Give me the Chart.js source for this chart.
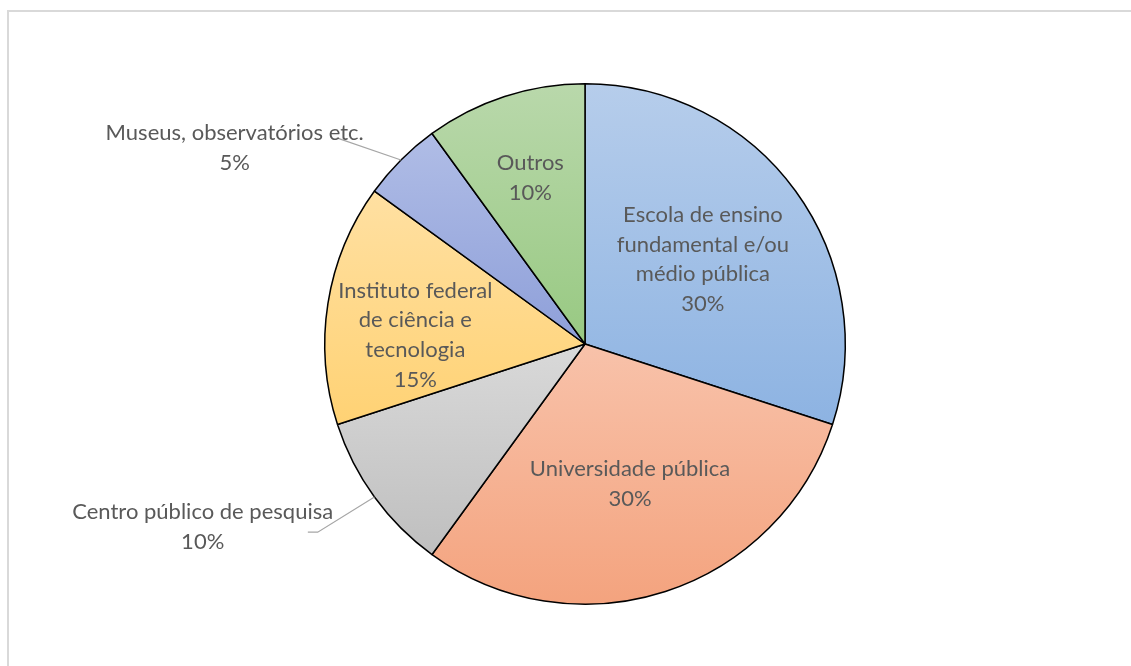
<!DOCTYPE html>
<html>
<head>
<meta charset="utf-8">
<script src="https://cdn.jsdelivr.net/npm/chart.js@4/dist/chart.umd.min.js"></script>
<style>
  body { margin: 0; background: #fff; overflow: hidden; }
  #frame { position: absolute; left: 7px; top: 10px; width: 1200px; height: 700px;
           border-left: 2px solid #d9d9d9; border-top: 2px solid #d9d9d9; }
  #myChart { position: absolute; left: 0; top: 0; }
</style>
</head>
<body>
<div id="frame"></div>
<canvas id="myChart" width="1131" height="666"></canvas>
<script>
// dados do grafico
var categorias = ['Escola de ensino fundamental e/ou médio pública', 'Universidade pública',
  'Centro público de pesquisa', 'Instituto federal de ciência e tecnologia',
  'Museus, observatórios etc.', 'Outros'];
var valores = [30, 30, 10, 15, 5, 10];
var linhas = [
  ['Escola de ensino', 'fundamental e/ou', 'médio pública'],
  ['Universidade pública'],
  ['Centro público de pesquisa'],
  ['Instituto federal', 'de ciência e', 'tecnologia'],
  ['Museus, observatórios etc.'],
  ['Outros']
];
var corClara = ['#b6cdeb', '#f8c2aa', '#d9d9d9', '#ffe0a2', '#b0bde6', '#b9d8ab'];
var corEscura = ['#8db3e2', '#f4a37e', '#bfbfbf', '#ffd274', '#8e9fd9', '#98c982'];

// posicao dos rotulos (em unidades do raio)
var posRotulos = [
  { dentro: true, r: 0.56 },
  { dentro: true, r: 0.56 },
  { dentro: false, dx: -1.469, dy: 0.700, guia: [[-1.027, 0.723], [-1.065, 0.723]] },
  { dentro: true, r: 0.66, ajuste: 17 },
  { dentro: false, dx: -1.346, dy: -0.758, guia: [[-0.954, -0.792]] },
  { dentro: true, r: 0.68, ajuste: 1 }
];

var gradientes = {
  id: 'gradientes',
  beforeDatasetsDraw: function (chart) {
    var ctx = chart.ctx;
    var arcos = chart.getDatasetMeta(0).data;
    arcos.forEach(function (arc, i) {
      var pts = [arc.y];
      var a0 = arc.startAngle, a1 = arc.endAngle;
      for (var k = 0; k <= 40; k++) {
        var a = a0 + (a1 - a0) * k / 40;
        pts.push(arc.y + Math.sin(a) * arc.outerRadius);
      }
      var y0 = Math.min.apply(null, pts), y1 = Math.max.apply(null, pts);
      var g = ctx.createLinearGradient(0, y0, 0, y1);
      g.addColorStop(0, corClara[i]);
      g.addColorStop(1, corEscura[i]);
      arc.options.backgroundColor = g;
    });
  }
};

var rotulos = {
  id: 'rotulos',
  afterDatasetsDraw: function (chart) {
    var ctx = chart.ctx;
    var arcos = chart.getDatasetMeta(0).data;
    var total = valores.reduce(function (a, b) { return a + b; }, 0);
    ctx.save();
    ctx.font = '22px Lato';
    ctx.fillStyle = '#595959';
    ctx.textAlign = 'center';
    ctx.textBaseline = 'middle';
    arcos.forEach(function (arc, i) {
      var R = arc.outerRadius;
      var p = posRotulos[i];
      var meio = (arc.startAngle + arc.endAngle) / 2;
      var cx, cy;
      if (p.dentro) {
        cx = arc.x + Math.cos(meio) * R * p.r;
        cy = arc.y + Math.sin(meio) * R * p.r + (p.ajuste || 0);
      } else {
        cx = arc.x + p.dx * R;
        cy = arc.y + p.dy * R;
        // linha guia
        ctx.save();
        ctx.strokeStyle = '#a6a6a6';
        ctx.lineWidth = 1.2;
        ctx.beginPath();
        ctx.moveTo(arc.x + Math.cos(meio) * R, arc.y + Math.sin(meio) * R);
        p.guia.forEach(function (q) { ctx.lineTo(arc.x + q[0] * R, arc.y + q[1] * R); });
        ctx.stroke();
        ctx.restore();
      }
      var txt = linhas[i].concat([Math.round(valores[i] / total * 100) + '%']);
      var lh = 29.7;
      var topo = cy - (txt.length - 1) * lh / 2 + 1;
      txt.forEach(function (t, j) { ctx.fillText(t, cx, topo + j * lh); });
    });
    ctx.restore();
  }
};

var config = {
  type: 'pie',
  data: {
    labels: categorias,
    datasets: [{
      data: valores,
      backgroundColor: corEscura,
      borderColor: '#000000',
      borderWidth: 1.5
    }]
  },
  options: {
    responsive: false,
    animation: false,
    layout: { padding: { top: 83, bottom: 61, left: 324, right: 285 } },
    plugins: { legend: { display: false }, tooltip: { enabled: false } }
  },
  plugins: [gradientes, rotulos]
};

var myChart = new Chart(document.getElementById('myChart'), config);
</script>
</body>
</html>
